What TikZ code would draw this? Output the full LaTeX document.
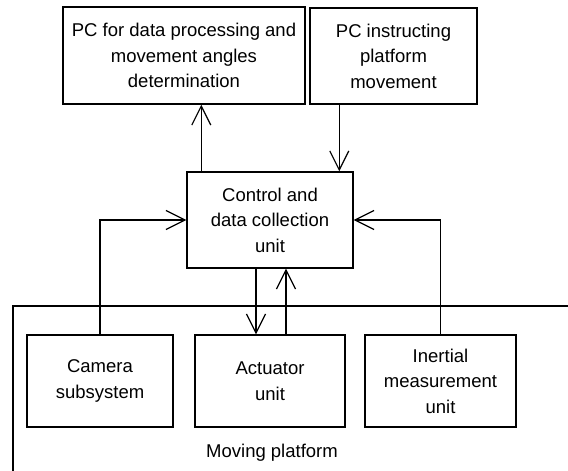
\documentclass[tikz,border=0pt]{standalone}
\usepackage{fontspec}
\setmainfont{Liberation Sans}
\usetikzlibrary{arrows.meta}

\tikzset{
  block/.style={draw, line width=1.4pt, align=center, inner sep=2pt,
    font=\fontsize{18.5}{25.5}\selectfont},
  link/.style={line width=1.2pt},
  arr/.style={link, -{Straight Barb[length=19pt,width=19pt,line width=1.2pt]}}
}

\begin{document}
\begin{tikzpicture}[x=1pt,y=-1pt]
  \useasboundingbox (0,0) rectangle (568,471);

  \node[block, minimum width=242pt, minimum height=97pt] (pcproc) at (184,55.5)
    {PC for data processing and\\movement angles\\determination};
  \node[block, minimum width=167pt, minimum height=96pt] (pcmove) at (393.5,56)
    {PC instructing\\platform\\movement};
  \node[block, minimum width=166pt, minimum height=96pt] (ctrl) at (270,220)
    {Control and\\data collection\\unit};

  \node[block, minimum width=146pt, minimum height=92pt] (cam) at (100,381)
    {Camera\\subsystem};
  \node[block, minimum width=150pt, minimum height=92pt] (act) at (270,381)
    {Actuator\\unit};
  \node[block, minimum width=151pt, minimum height=92pt] (imu) at (440.5,381)
    {Inertial\\measurement\\unit};

  % moving platform (runs off the page right and below)
  \coordinate (plat1) at (568,306);
  \coordinate (plat2) at (13,471);
  \draw[line width=1.2pt] (plat1) -| (plat2);
  \node[font=\fontsize{18.5}{25.5}\selectfont] (plat) at (272,453) {Moving platform};

  % links
  \draw[arr] ([xshift=15pt]ctrl.north west) -- ([xshift=15pt]ctrl.north west |- pcproc.south);
  \draw[arr] ([xshift=30pt]pcmove.south west) -- ([xshift=30pt]pcmove.south west |- ctrl.north);
  \draw[arr] (cam.north) |- (ctrl.west);
  \draw[arr] (imu.north) |- (ctrl.east);
  \draw[arr] ([xshift=-14pt]ctrl.south) -- ([xshift=-14pt]act.north);
  \draw[arr] ([xshift=16pt]act.north) -- ([xshift=16pt]ctrl.south);
\end{tikzpicture}
\end{document}
